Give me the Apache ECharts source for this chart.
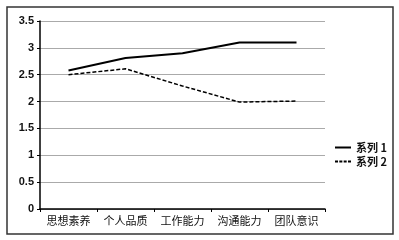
<!DOCTYPE html>
<html><head><meta charset="utf-8">
<script src="https://cdn.jsdelivr.net/npm/echarts@6/dist/echarts.min.js"></script>
<style>html,body{margin:0;padding:0;background:#fff}#c{width:399px;height:240px}</style>
</head><body><div id="c"></div>
<script>
const categories = ['思想素养','个人品质','工作能力','沟通能力','团队意识'];
const series1 = [2.58, 2.81, 2.9, 3.1, 3.1];
const series2 = [2.5, 2.61, 2.29, 1.99, 2.01];
const seriesNames = ['系列 1','系列 2'];
const chart = echarts.init(document.getElementById('c'));
chart.setOption({
  animation:false,
  graphic:[{type:'rect',shape:{x:7,y:7,width:386,height:227},style:{fill:'none',stroke:'#333',lineWidth:1.5}}],
  grid:{left:40,top:21,width:285,height:188},
  legend:{orient:'vertical',left:330,top:137,itemWidth:16,itemHeight:10,itemGap:3,
    textStyle:{fontSize:11,color:'#111',fontFamily:'Noto Sans CJK SC',fontWeight:'bold'},
    data:[{name:seriesNames[0],icon:'path://M0,0H16V2H0Z'},{name:seriesNames[1],icon:'path://M0,0H3V2H0ZM4.3,0H7.3V2H4.3ZM8.6,0H11.6V2H8.6ZM12.9,0H15.9V2H12.9Z'}]},
  xAxis:{type:'category',data:categories,boundaryGap:true,
    axisLine:{lineStyle:{color:'#000',width:1.5}},
    axisTick:{show:true,length:3,lineStyle:{color:'#000'},interval:0},
    axisLabel:{color:'#111',fontSize:11,fontFamily:'Noto Sans CJK SC',margin:6,interval:0}},
  yAxis:{type:'value',min:0,max:3.5,interval:0.5,
    axisLine:{show:true,lineStyle:{color:'#000',width:1.5}},
    axisTick:{show:true,length:3,lineStyle:{color:'#000'}},
    splitLine:{lineStyle:{color:'#aaa',width:1}},
    axisLabel:{color:'#111',fontSize:11,fontFamily:'Liberation Sans',fontWeight:'bold',margin:6}},
  series:[
    {name:seriesNames[0],type:'line',data:series1,symbol:'none',lineStyle:{color:'#000',width:2},itemStyle:{color:'#000'}},
    {name:seriesNames[1],type:'line',data:series2,symbol:'none',lineStyle:{color:'#000',width:1.5,type:[4,2]},itemStyle:{color:'#000'}}
  ]
});
</script></body></html>
